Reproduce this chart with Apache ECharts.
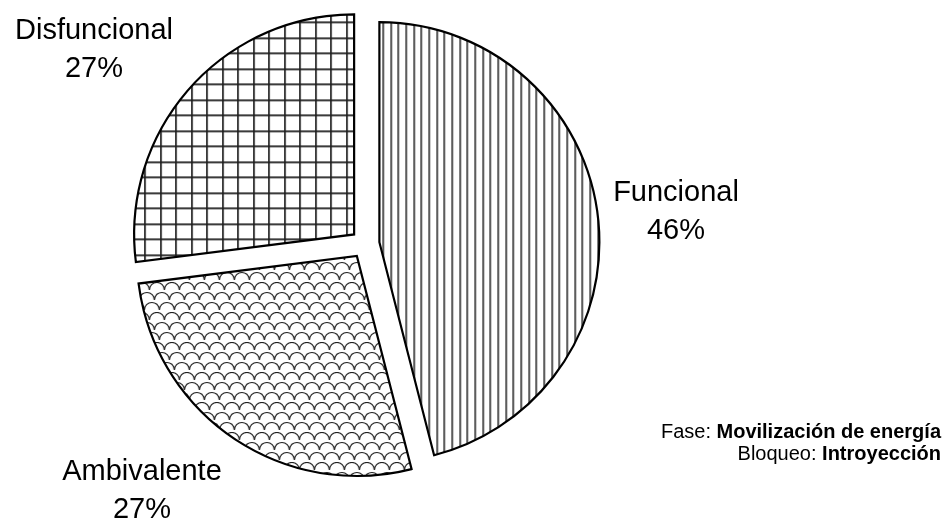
<!DOCTYPE html>
<html>
<head>
<meta charset="utf-8">
<script src="https://cdn.jsdelivr.net/npm/echarts@6/dist/echarts.min.js"></script>
<style>
  html, body { margin: 0; padding: 0; background: #fff; }
  #chart { width: 946px; height: 523px; }
</style>
</head>
<body>
<div id="chart"></div>
<script>
// Slice names and shares (percent)
const categories = ['Funcional', 'Ambivalente', 'Disfuncional'];
const shares = [46, 27, 27];

// Caption lines: plain prefix + bold value
const captionPrefixes = ['Fase:', 'Bloqueo:'];
const captionValues = ['Movilización de energía', 'Introyección'];

const FONT = "'Liberation Sans', Arial, Helvetica, sans-serif";

// Build a repeating monochrome hatch tile
function makeTile(w, h, draw) {
  const c = document.createElement('canvas');
  c.width = w;
  c.height = h;
  const ctx = c.getContext('2d');
  ctx.fillStyle = '#ffffff';
  ctx.fillRect(0, 0, w, h);
  ctx.strokeStyle = '#1e1e1e';
  ctx.lineWidth = 1.5;
  draw(ctx, w, h);
  return { image: c, repeat: 'repeat' };
}

// Vertical stripes (~7.7px pitch)
const stripeFill = makeTile(23, 8, (ctx, w, h) => {
  ctx.beginPath();
  [0.75, 8.75, 15.75].forEach(x => { ctx.moveTo(x, 0); ctx.lineTo(x, h); });
  ctx.stroke();
});

// Square grid (~15.5px pitch)
const gridFill = makeTile(31, 31, (ctx, w, h) => {
  ctx.lineWidth = 1.7;
  ctx.beginPath();
  [0.85, 16.85].forEach(v => {
    ctx.moveTo(v, 0); ctx.lineTo(v, h);
    ctx.moveTo(0, v); ctx.lineTo(w, v);
  });
  ctx.stroke();
});

// Scale / shingle pattern, rows shifted diagonally
const scaleFill = makeTile(15, 30, (ctx, w, h) => {
  ctx.lineWidth = 1.2;
  const rowH = 10, r = 7.5, shift = 5;
  for (let row = -2; row <= 4; row++) {
    const y = row * rowH + 8;
    const off = ((row % 3) + 3) % 3 * shift;
    for (let k = -2; k <= 2; k++) {
      const cx = off + k * w;
      ctx.beginPath();
      ctx.moveTo(cx - r, y);
      ctx.arc(cx, y, r, Math.PI, 2 * Math.PI);
      ctx.lineTo(cx + r, y + 3);
      ctx.lineTo(cx - r, y + 3);
      ctx.closePath();
      ctx.fillStyle = '#ffffff';
      ctx.fill();
      ctx.beginPath();
      ctx.arc(cx, y, r, Math.PI, 2 * Math.PI);
      ctx.stroke();
    }
  }
});

const fills = [stripeFill, scaleFill, gridFill];

// Label anchor points (centre of each two-line label)
const labelAnchors = [[676, 212], [142, 491], [94, 50]];

const edge = { borderColor: '#000000', borderWidth: 2.2, borderJoin: 'miter' };

const chart = echarts.init(document.getElementById('chart'), null, { renderer: 'canvas' });

const sliceLabels = categories.map((name, i) => ({
  type: 'text',
  x: labelAnchors[i][0],
  y: labelAnchors[i][1],
  silent: true,
  style: {
    text: name + '\n' + shares[i] + '%',
    align: 'center',
    verticalAlign: 'middle',
    fontFamily: FONT,
    fontSize: 29,
    lineHeight: 38,
    fill: '#000000'
  }
}));

const captions = captionPrefixes.map((pre, i) => ({
  type: 'text',
  x: 941,
  y: 432 + i * 22,
  silent: true,
  style: {
    text: pre + ' {b|' + captionValues[i] + '}',
    align: 'right',
    verticalAlign: 'middle',
    fontFamily: FONT,
    fontSize: 20,
    fill: '#000000',
    rich: {
      b: { fontFamily: FONT, fontSize: 20, fontWeight: 'bold', fill: '#000000' }
    }
  }
}));

chart.setOption({
  animation: false,
  backgroundColor: '#ffffff',
  series: [{
    type: 'pie',
    center: [365, 244],
    radius: 220,
    startAngle: 90,
    clockwise: true,
    selectedMode: 'multiple',
    selectedOffset: 14.5,
    avoidLabelOverlap: false,
    emphasis: { disabled: true },
    label: { show: false },
    labelLine: { show: false },
    data: categories.map((name, i) => ({
      name: name,
      value: shares[i],
      selected: true,
      itemStyle: Object.assign({ color: fills[i] }, edge),
      select: { itemStyle: Object.assign({ color: fills[i] }, edge) }
    }))
  }],
  graphic: sliceLabels.concat(captions)
});
</script>
</body>
</html>
